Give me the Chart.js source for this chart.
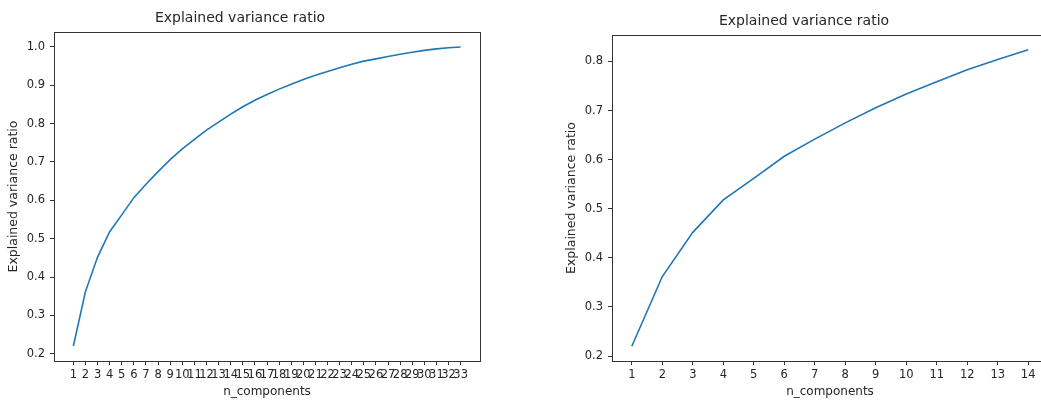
<!DOCTYPE html>
<html>
<head>
<meta charset="utf-8">
<script src="https://cdn.jsdelivr.net/npm/chart.js@4/dist/chart.umd.min.js"></script>
<style>
  html, body { margin: 0; padding: 0; background: #fff; overflow: hidden; }
  body { width: 1041px; height: 403px; position: relative; }
  canvas { position: absolute; top: 0; }
</style>
</head>
<body>
<canvas id="leftChart" width="500" height="403" style="left:0px"></canvas>
<canvas id="rightChart" width="500" height="403" style="left:560px"></canvas>
<script>
// data
const componentsAll = [1, 2, 3, 4, 5, 6, 7, 8, 9, 10, 11, 12, 13, 14, 15, 16, 17, 18, 19, 20, 21, 22, 23, 24, 25, 26, 27, 28, 29, 30, 31, 32, 33];
const varianceAll = [0.220, 0.362, 0.452, 0.518, 0.562, 0.607, 0.642, 0.675, 0.706, 0.734, 0.759, 0.783, 0.804, 0.825, 0.844, 0.861, 0.876, 0.890, 0.903, 0.915, 0.926, 0.936, 0.946, 0.955, 0.963, 0.969, 0.975, 0.981, 0.986, 0.991, 0.995, 0.998, 1.000];
const components14 = [1, 2, 3, 4, 5, 6, 7, 8, 9, 10, 11, 12, 13, 14];
const variance14 = [0.220, 0.362, 0.452, 0.518, 0.562, 0.607, 0.642, 0.675, 0.706, 0.734, 0.759, 0.783, 0.804, 0.824];
const yTicksLeft = [0.2, 0.3, 0.4, 0.5, 0.6, 0.7, 0.8, 0.9, 1.0];
const yTicksRight = [0.2, 0.3, 0.4, 0.5, 0.6, 0.7, 0.8];

const FONT = 'DejaVu Sans';
const INK = '#262626';

// matplotlib style box round the plot area
const frame = {
    id: 'frame',
    afterDraw(chart) {
        const a = chart.chartArea;
        const ctx = chart.ctx;
        ctx.save();
        ctx.strokeStyle = '#333';
        ctx.lineWidth = 1;
        ctx.strokeRect(Math.round(a.left) + 0.5, Math.round(a.top) + 0.5,
            Math.round(a.right - a.left), Math.round(a.bottom - a.top));
        ctx.restore();
    }
};

function makeChart(id, xs, ys, xTicks, yTicks, cfg) {
    const ctx = document.getElementById(id).getContext('2d');
    return new Chart(ctx, {
        type: 'line',
        data: {
            datasets: [{
                data: xs.map((x, i) => ({ x: x, y: ys[i] })),
                borderColor: '#1f77b4',
                borderWidth: 1.6,
                pointRadius: 0,
                tension: 0,
                fill: false
            }]
        },
        options: {
            responsive: false,
            animation: false,
            events: [],
            layout: { padding: { left: 0, right: cfg.padRight, top: 0, bottom: 0 } },
            plugins: {
                legend: { display: false },
                tooltip: { enabled: false },
                title: {
                    display: true,
                    text: 'Explained variance ratio',
                    color: INK,
                    font: { family: FONT, size: 14, weight: 'normal', lineHeight: 1.2 },
                    padding: { top: cfg.titleTop, bottom: cfg.titleBottom }
                }
            },
            scales: {
                x: {
                    type: 'linear',
                    min: cfg.xMin,
                    max: cfg.xMax,
                    afterBuildTicks: s => { s.ticks = xTicks.map(v => ({ value: v })); },
                    afterFit: s => { s.height = 42; },
                    border: { display: false },
                    grid: { display: true, drawOnChartArea: false, drawTicks: true, tickLength: 4, color: '#333' },
                    ticks: {
                        autoSkip: false,
                        maxRotation: 0,
                        minRotation: 0,
                        padding: 3,
                        color: INK,
                        font: { family: FONT, size: 11.5 },
                        callback: v => String(v)
                    },
                    title: {
                        display: true,
                        text: 'n_components',
                        color: INK,
                        font: { family: FONT, size: 12, lineHeight: 1.2 },
                        padding: { top: 0, bottom: 4.1 }
                    }
                },
                y: {
                    type: 'linear',
                    min: cfg.yMin,
                    max: cfg.yMax,
                    afterBuildTicks: s => { s.ticks = yTicks.map(v => ({ value: v })); },
                    afterFit: s => { s.width = cfg.yWidth; },
                    border: { display: false },
                    grid: { display: true, drawOnChartArea: false, drawTicks: true, tickLength: 4, color: '#333' },
                    ticks: {
                        padding: 5,
                        color: INK,
                        font: { family: FONT, size: 11.5 },
                        callback: v => v.toFixed(1)
                    },
                    title: {
                        display: true,
                        text: 'Explained variance ratio',
                        color: INK,
                        font: { family: FONT, size: 12.5, lineHeight: 1.2 },
                        padding: { top: cfg.yTitlePad, bottom: 0 }
                    }
                }
            }
        },
        plugins: [frame]
    });
}

makeChart('leftChart', componentsAll, varianceAll, componentsAll, yTicksLeft, {
    xMin: -0.6, xMax: 34.6, yMin: 0.181, yMax: 1.039,
    padRight: 20, yWidth: 54, yTitlePad: 6.5, titleTop: 9.6, titleBottom: 5.6
});

makeChart('rightChart', components14, variance14, components14, yTicksRight, {
    xMin: 0.35, xMax: 14.65, yMin: 0.19, yMax: 0.854,
    padRight: 12, yWidth: 52, yTitlePad: 4.2, titleTop: 13.3, titleBottom: 4.9
});
</script>
</body>
</html>
